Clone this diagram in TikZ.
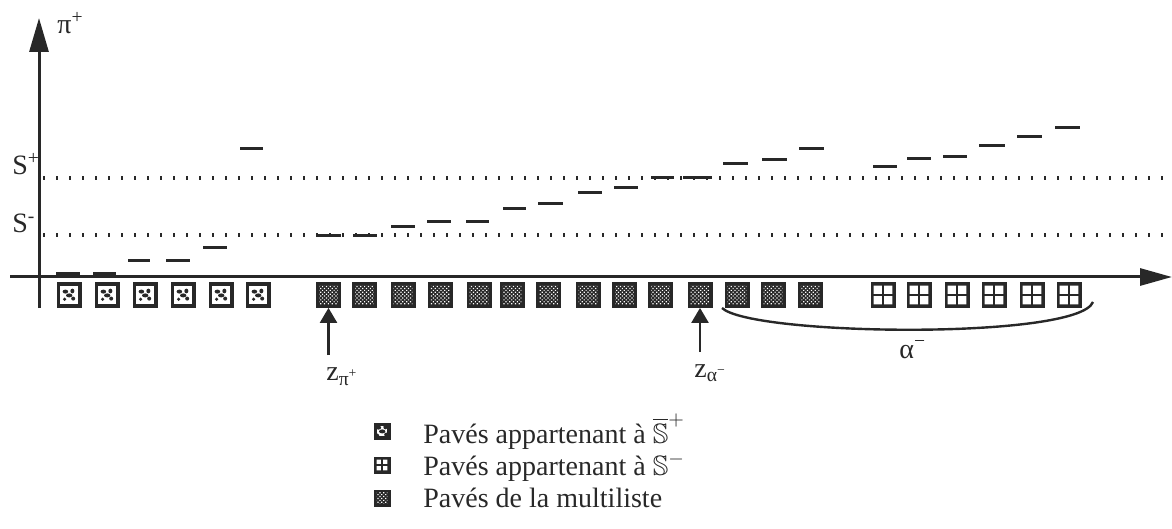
\documentclass[tikz,border=0pt]{standalone}
\usepackage{fontspec}
\setmainfont{Liberation Serif}
\usepackage{amssymb}
\usetikzlibrary{arrows.meta,patterns.meta}
\definecolor{ink}{RGB}{40,40,40}

\begin{document}
\begin{tikzpicture}[x=0.5pt,y=-0.5pt,
  lbl/.style={font=\fontsize{14}{16}\selectfont, inner sep=0pt, text=ink},
  axis/.style={ink, line width=1.5pt},
  level/.style={ink, line width=1.5pt},
  thresh/.style={ink, line width=1.6pt, dash pattern=on 1.2pt off 5.3pt},
  pointer/.style={ink, line width=1.2pt, -{Triangle[length=7.5pt,width=8.5pt]}},
  tile/.style={rectangle, inner sep=0pt, minimum size=12.5pt, fill=ink},
  % tiles of the multilist: fine dotted weave inside a dark frame
  multitile/.style={tile, path picture={
    \fill[pattern={Dots[radius=0.42pt,distance=1.35pt,angle=45]}, pattern color=white]
      ([shift={(1.6pt,1.6pt)}]path picture bounding box.south west) rectangle
      ([shift={(-1.6pt,-1.6pt)}]path picture bounding box.north east);}},
  % tiles of S^- : window with four panes
  gridtile/.style={tile, path picture={
    \fill[white]
      ([shift={(1.6pt,1.6pt)}]path picture bounding box.south west) rectangle
      ([shift={(-0.6pt,-0.6pt)}]path picture bounding box.center)
      ([shift={(0.6pt,-0.6pt)}]path picture bounding box.center) rectangle
      ([shift={(-1.6pt,1.6pt)}]path picture bounding box.south east)
      ([shift={(-0.6pt,0.6pt)}]path picture bounding box.center) rectangle
      ([shift={(1.6pt,-1.6pt)}]path picture bounding box.north west)
      ([shift={(0.6pt,0.6pt)}]path picture bounding box.center) rectangle
      ([shift={(-1.6pt,-1.6pt)}]path picture bounding box.north east);}},
  % tiles of the complement of S^+ : blotchy texture
  blobtile/.style={tile, path picture={
    \fill[white]
      ([shift={(1.8pt,1.8pt)}]path picture bounding box.south west) rectangle
      ([shift={(-1.8pt,-1.8pt)}]path picture bounding box.north east);
    \fill[ink] ([shift={(-1.8pt,1.7pt)}]path picture bounding box.center) ellipse (1.4pt and 1.0pt);
    \fill[ink] ([shift={(1.7pt,2.0pt)}]path picture bounding box.center) ellipse (1.0pt and 1.2pt);
    \fill[ink] ([shift={(0.1pt,-0.2pt)}]path picture bounding box.center) ellipse (1.6pt and 1.0pt);
    \fill[ink] ([shift={(2.1pt,-1.8pt)}]path picture bounding box.center) circle (1.0pt);
    \fill[ink] ([shift={(-2.2pt,-2.1pt)}]path picture bounding box.center) circle (0.9pt);}},
  small/.style={minimum size=8.5pt}
]
\useasboundingbox (0,0) rectangle (1172,529);

% axes
\draw[axis, -{Triangle[length=16pt,width=8.5pt]}] (10,277) -- (1172,277);
\draw[axis, -{Triangle[length=17pt,width=9.5pt]}] (39,308) -- (39,18);
\node[lbl, anchor=base west] (yl) at (57,34) {π\textsuperscript{+}};

% thresholds
\draw[thresh] (43,178) -- (1172,178);
\draw[thresh] (43,235) -- (1172,235);
\node[lbl, anchor=base west] (splus) at (12,175) {S\textsuperscript{+}};
\node[lbl, anchor=base west] (sminus) at (12,233) {S\textsuperscript{-}};

% tiles below the axis
\foreach \x [count=\i] in {69,107,145,183,221,258}
  \node[blobtile] (p\i) at (\x,295) {};
\foreach \x [count=\i] in {328.5,364.5,403,440,479,512,548.5,588,624.5,660.5,700,737,773,810}
  \node[multitile] (m\i) at (\x,295) {};
\foreach \x [count=\i] in {883,919,957,994,1032,1069}
  \node[gridtile] (g\i) at (\x,295) {};

% value of each tile
\foreach \a/\b/\y in {56/80/274, 93/116/274, 128/150/261, 166/190/261, 203/227/248, 240/263/149,
  317/341/236, 353/377/236, 391/415/227, 427/451/222, 466/489/222, 503/526/209, 538/563/204,
  578/602/193, 614/638/188, 651/674/178, 683/712/178, 723/748/164, 762/787/160, 799/824/149,
  873/897/167, 907/931/159, 943/967/157, 979/1005/146, 1017/1042/137, 1055/1080/128}
  \draw[level] (\a,\y) -- (\b,\y);

% pointers
\coordinate (zpfoot) at (328.5,355);
\coordinate (zafoot) at (700,352);
\draw[pointer] (zpfoot) -- (m1.south);
\draw[pointer] (zafoot) -- (m11.south);
\node[lbl, anchor=base west] (zp) at (326,380) {z\textsubscript{π\textsuperscript{+}}};
\node[lbl, anchor=base west] (za) at (694,377) {z\textsubscript{α\textsuperscript{−}}};

% span alpha^-
\coordinate (astart) at (722,308);
\coordinate (aend) at (1093,302);
\draw[ink, line width=1.2pt] (astart) .. controls (752,336) and (1078,340) .. (aend);
\node[lbl, anchor=base west] (al) at (899,358) {α\textsuperscript{−}};

% legend
\node[blobtile, small] (k1) at (382,431) {};
\node[gridtile, small] (k2) at (382,465) {};
\node[multitile, small] (k3) at (382,498) {};
\node[lbl, anchor=base west] (t1) at (423,443) {Pavés appartenant à $\overline{\mathbb{S}}^{+}$};
\node[lbl, anchor=base west] (t2) at (423,475) {Pavés appartenant à $\mathbb{S}^{-}$};
\node[lbl, anchor=base west] (t3) at (423,507) {Pavés de la multiliste};
\end{tikzpicture}
\end{document}
